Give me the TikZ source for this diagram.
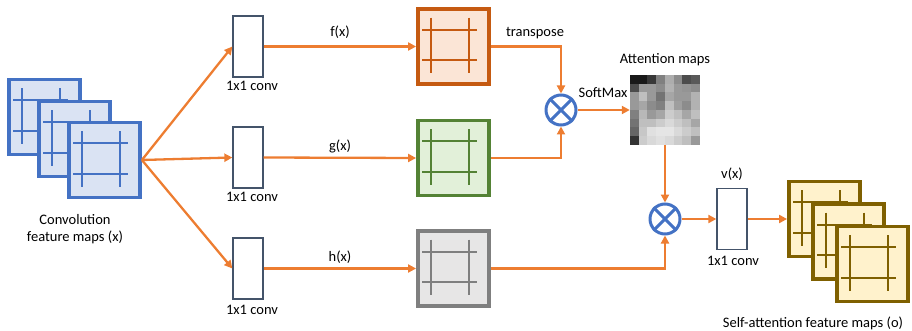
\documentclass[tikz,border=0pt]{standalone}
\usepackage{fontspec}
\setmainfont{Carlito}
\usetikzlibrary{arrows.meta}
\definecolor{bfill}{HTML}{DAE3F3}
\definecolor{bline}{HTML}{4472C4}
\definecolor{ofill}{HTML}{FBE5D6}
\definecolor{oline}{HTML}{C55A11}
\definecolor{gfill}{HTML}{E2F0D9}
\definecolor{gline}{HTML}{548235}
\definecolor{kfill}{HTML}{E7E6E6}
\definecolor{kline}{HTML}{7F7F7F}
\definecolor{yfill}{HTML}{FFF2CC}
\definecolor{yline}{HTML}{7F6000}
\definecolor{convc}{HTML}{44546A}
\definecolor{orng}{HTML}{ED7D31}
\newcommand\fmapgrid[2]{%
  \begin{scope}[shift={(#1.north west)}]
    \draw[#2, line width=2pt] (14.5,10.5) -- (14.5,66) (52.5,10.5) -- (52.5,66)
      (6,22.5) -- (60.5,22.5) (6,53) -- (60.5,53);
  \end{scope}}
\begin{document}
\begin{tikzpicture}[x=1pt,y=-1pt,
  fmap/.style={draw, line width=3.8pt, minimum width=71pt, minimum height=75pt, inner sep=0pt},
  convbox/.style={draw=convc, line width=1.3pt, fill=white, minimum width=30pt, minimum height=61pt, inner sep=0pt},
  arr/.style={draw=orng, line width=2.3pt, -{Triangle[length=8pt,width=8pt]}},
  lbl/.style={font=\fontsize{14.5}{17}\selectfont, inner sep=0pt, align=center},
  otimes/.style={circle, draw=bline, line width=3pt, minimum size=30pt, inner sep=0pt}]
\useasboundingbox (0,0) rectangle (912,331);

% input feature maps
\node[fmap, draw=bline, fill=bfill] (xb) at (44.5,117) {};
\fmapgrid{xb}{bline}
\node[fmap, draw=bline, fill=bfill] (xm) at (74.5,139) {};
\fmapgrid{xm}{bline}
\node[fmap, draw=bline, fill=bfill] (xf) at (104.5,160) {};
\fmapgrid{xf}{bline}
\node[lbl] (xlbl) at (75,229) {Convolution\\feature maps (x)};

% 1x1 convs
\node[convbox] (c1) at (248,46.5) {};
\node[convbox] (c2) at (248,157.5) {};
\node[convbox] (c3) at (248,268.5) {};
\node[lbl] (c1l) at (252,86) {1x1 conv};
\node[lbl] (c2l) at (252,197) {1x1 conv};
\node[lbl] (c3l) at (252,310) {1x1 conv};

% f g h maps
\node[fmap, draw=oline, fill=ofill] (fs) at (453.5,46.5) {};
\fmapgrid{fs}{oline}
\node[fmap, draw=gline, fill=gfill] (gs) at (453.5,158) {};
\fmapgrid{gs}{gline}
\node[fmap, draw=kline, fill=kfill] (hs) at (453.5,268.5) {};
\fmapgrid{hs}{kline}
\node[lbl] (fl) at (340,32) {f(x)};
\node[lbl] (gl) at (340,146) {g(x)};
\node[lbl] (hl) at (340,257) {h(x)};

% otimes 1
\node[otimes] (o1) at (561,110) {};
\draw[bline, line width=3pt] (o1.north east) -- (o1.south west) (o1.north west) -- (o1.south east);
\node[lbl] (tl) at (535,33) {transpose};
\node[lbl] (sm) at (603,93) {SoftMax};

% attention map
\node[minimum width=70pt, minimum height=70pt, inner sep=0pt] (att) at (665,110) {};
\begin{scope}[shift={(att.north west)}]
\foreach \row [count=\r from 0] in {
  {10,10,22,50,68,55,30,35},
  {30,60,60,55,70,60,58,55},
  {60,75,60,45,65,60,60,70},
  {60,65,55,50,75,62,55,70},
  {50,72,60,65,80,75,65,75},
  {45,75,75,80,85,80,75,65},
  {40,78,88,90,90,85,80,75},
  {20,80,85,88,85,80,75,60}} {
  \foreach \v [count=\c from 0] in \row {
    \fill[white!\v!black] (\c*8.75, \r*8.75) rectangle ++(8.85,8.85);
  }
}
\end{scope}
\node[lbl] (al) at (665,60) {Attention maps};

% otimes 2
\node[otimes] (o2) at (665,219) {};
\draw[bline, line width=3pt] (o2.north east) -- (o2.south west) (o2.north west) -- (o2.south east);

% v conv
\node[convbox] (vc) at (732,219) {};
\node[lbl] (vl) at (732,174) {v(x)};
\node[lbl] (vcl) at (733,261) {1x1 conv};

% output maps
\node[fmap, draw=yline, fill=yfill] (ob) at (824.5,219) {};
\fmapgrid{ob}{yline}
\node[fmap, draw=yline, fill=yfill] (om) at (848.5,241.5) {};
\fmapgrid{om}{yline}
\node[fmap, draw=yline, fill=yfill] (of) at (872.5,264) {};
\fmapgrid{of}{yline}
\node[lbl] (ol) at (813,323) {Self-attention feature maps (o)};

% connectors
\draw[arr] (xf.east) -- (c1.west);
\draw[arr] (xf.east) -- (c2.west);
\draw[arr] (xf.east) -- (c3.west);
\draw[arr] (c1.east) -- (fs.west);
\draw[arr] (c2.east) -- (gs.west);
\draw[arr] (c3.east) -- (hs.west);
\draw[arr] (fs.east) -| (o1.north);
\draw[arr] (gs.east) -| (o1.south);
\draw[arr] (o1.east) -- (att.west);
\draw[arr] (att.south) -- (o2.north);
\draw[arr] (hs.east) -| (o2.south);
\draw[arr] (o2.east) -- (vc.west);
\draw[arr] (vc.east) -- (ob.west);
\end{tikzpicture}
\end{document}
